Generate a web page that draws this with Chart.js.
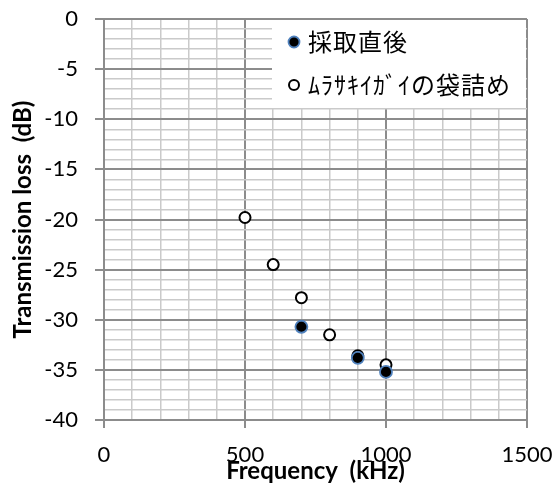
<!DOCTYPE html>
<html>
<head>
<meta charset="utf-8">
<script src="https://cdn.jsdelivr.net/npm/chart.js@4/dist/chart.umd.min.js"></script>
<style>
  html, body { margin: 0; padding: 0; background: #ffffff; }
  #wrap { width: 555px; height: 495px; }
</style>
</head>
<body>
<div id="wrap"><canvas id="chart" width="555" height="495"></canvas></div>
<script>
// Series names
const seriesNames = ['採取直後', 'ﾑﾗｻｷｲｶﾞｲの袋詰め'];

// Measured transmission loss right after sampling
const freqFresh = [700, 900, 1000];
const lossFresh = [-30.7, -33.8, -35.2];

// Measured transmission loss with bagged mussels
const freqBagged = [500, 600, 700, 800, 900, 1000];
const lossBagged = [-19.8, -24.5, -27.8, -31.5, -33.6, -34.5];

// Labelled (major) ticks
const xTicks = [0, 500, 1000, 1500];
const yTicks = [0, -5, -10, -15, -20, -25, -30, -35, -40];

const axisTitleX = 'Frequency  (kHz)';
const axisTitleY = 'Transmission loss  (dB)';

const toPoints = (xs, ys) => xs.map((x, i) => ({ x: x, y: ys[i] }));
const isMajor = (list, v) => list.some(t => Math.abs(t - v) < 1e-6);

const MAJOR = '#8c8c8c';
const MINOR = '#cacaca';
const TICK_FONT = { family: 'Lato, "Open Sans", sans-serif', size: 22 };
const TITLE_FONT = { family: 'Lato, "Open Sans", sans-serif', size: 24, weight: 'bold' };

// Keep the plot area fixed: ignore label overflow when laying out
const fixedBox = size => s => {
  if (s.isHorizontal()) { s.height = size; } else { s.width = size; }
  s.paddingTop = 0; s.paddingBottom = 0; s.paddingLeft = 0; s.paddingRight = 0;
};

// Legend drawn as a white box in the top-right corner of the plot area
const cornerLegend = {
  id: 'cornerLegend',
  beforeDatasetsDraw(chart) {
    const { ctx, chartArea } = chart;
    const left = chartArea.right - 255;
    ctx.save();
    ctx.fillStyle = '#ffffff';
    ctx.fillRect(left, chartArea.top + 1, chartArea.right - left - 1, 88);
    ctx.font = '24px "Noto Sans CJK JP", sans-serif';
    ctx.letterSpacing = '1px';
    ctx.textBaseline = 'middle';
    ctx.textAlign = 'left';
    chart.data.datasets.forEach((ds, i) => {
      const cy = chartArea.top + 23 + i * 43;
      const cx = left + 22;
      ctx.beginPath();
      ctx.arc(cx, cy, ds.pointRadius - 0.5, 0, Math.PI * 2);
      ctx.fillStyle = ds.pointBackgroundColor;
      ctx.fill();
      ctx.lineWidth = ds.pointBorderWidth;
      ctx.strokeStyle = ds.pointBorderColor;
      ctx.stroke();
      ctx.fillStyle = '#000000';
      ctx.fillText(ds.label, cx + 14, cy);
    });
    ctx.restore();
  }
};

new Chart(document.getElementById('chart'), {
  type: 'scatter',
  data: {
    datasets: [
      {
        label: seriesNames[0],
        data: toPoints(freqFresh, lossFresh),
        pointRadius: 6,
        pointHoverRadius: 6,
        pointBackgroundColor: '#000000',
        pointBorderColor: '#4f81bd',
        pointBorderWidth: 1.8
      },
      {
        label: seriesNames[1],
        data: toPoints(freqBagged, lossBagged),
        pointRadius: 5.5,
        pointHoverRadius: 5.5,
        pointBackgroundColor: '#ffffff',
        pointBorderColor: '#000000',
        pointBorderWidth: 2
      }
    ]
  },
  options: {
    responsive: false,
    animation: false,
    devicePixelRatio: 1,
    layout: { padding: { top: 19, right: 28, left: 0, bottom: 0 } },
    plugins: {
      legend: { display: false },
      tooltip: { enabled: false }
    },
    scales: {
      x: {
        type: 'linear',
        min: 0,
        max: 1500,
        afterFit: fixedBox(75),
        ticks: {
          stepSize: 100,
          autoSkip: false,
          maxRotation: 0,
          padding: 14,
          color: '#000000',
          font: TICK_FONT,
          callback: v => isMajor(xTicks, v) ? String(v) : ''
        },
        grid: {
          color: c => isMajor(xTicks, c.tick.value) ? MAJOR : MINOR,
          lineWidth: c => isMajor(xTicks, c.tick.value) ? 2 : 1.5,
          tickLength: 8,
          tickColor: c => isMajor(xTicks, c.tick.value) ? MAJOR : 'rgba(0,0,0,0)',
          tickWidth: 2
        },
        border: { color: MAJOR, width: 2 },
        title: {
          display: true,
          text: axisTitleX,
          color: '#000000',
          font: TITLE_FONT,
          padding: { top: 0, bottom: 9 }
        }
      },
      y: {
        type: 'linear',
        min: -40,
        max: 0,
        afterFit: fixedBox(104),
        ticks: {
          stepSize: 1,
          autoSkip: false,
          padding: 17,
          color: '#000000',
          font: TICK_FONT,
          callback: v => isMajor(yTicks, v) ? String(v) : ''
        },
        grid: {
          color: c => isMajor(yTicks, c.tick.value) ? MAJOR : MINOR,
          lineWidth: c => isMajor(yTicks, c.tick.value) ? 2 : 1.5,
          tickLength: 9,
          tickColor: c => isMajor(yTicks, c.tick.value) ? MAJOR : 'rgba(0,0,0,0)',
          tickWidth: 2
        },
        border: { color: MAJOR, width: 2 },
        title: {
          display: true,
          text: axisTitleY,
          color: '#000000',
          font: TITLE_FONT,
          padding: { top: 9, bottom: 0 }
        }
      }
    }
  },
  plugins: [cornerLegend]
});
</script>
</body>
</html>
